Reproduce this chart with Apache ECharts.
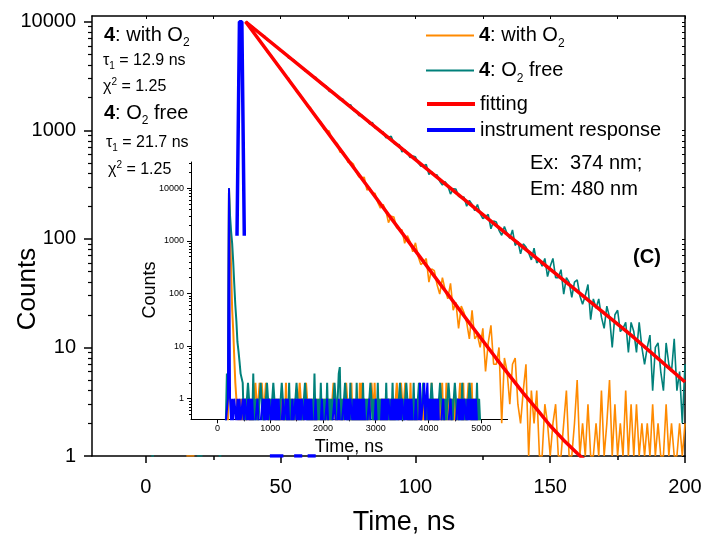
<!DOCTYPE html>
<html><head><meta charset="utf-8">
<script src="https://cdn.jsdelivr.net/npm/echarts@6/dist/echarts.min.js"></script>
<style>html,body{margin:0;padding:0;background:#fff}#c{width:704px;height:534px}</style>
</head><body><div id="c"></div>
<script>
// ---------------- DATA ----------------
// main panel: one channel per ns, starting at t = 0 ns (null = no point)
const mainStart = 0, mainStep = 1;
const withO2 = [
 null,null,null,null,null,null,null,null,null,null,null,null,null,null,null,
 1,1,1,1,
 null,null,null,null,null,null,null,null,null,null,null,null,null,null,null,null,null,null,
 10100,9295,8495,8084,7317,6716,6293,5917,5261,5034,
 4682,4239,3884,3751,3405,3119,3021,2645,2507,2235,
 2172,1999,1821,1649,1631,1425,1348,1226,1186,1024,
 1000,984,829,775,757,627,638,582,507,511,
 488,414,373,366,370,282,295,263,263,217,
 192,208,182,141,162,159,127,122,121,91,
 107,94,76,92,69,58,61,66,40,53,
 51,38,31,44,34,28,39,22,26,15,
 24,21,17,12,22,12,13,10,15,6,
 11,16,7,7,10,2,8,6,3,7,
 8,3,2,4,7,1,4,2,4,1,
 1,3,2,1,2,3,1,1,2,4,
 1,1,2,5,1,2,1,3,1,1,
 2,1,4,1,2,5,1,3,1,2,
 1,4,1,3,1,3,1,2,1,2,
 1,3,1,2,1,1,3,1,2,1,
 1,2,1,2
];
const o2Free = [
 null,null,1,1,
 null,null,null,null,null,null,null,null,null,null,null,null,null,null,null,
 1,1,1,
 null,null,null,null,null,
 1,1,
 null,null,null,null,null,null,null,null,
 10030,9439,9189,8839,8268,7847,7584,7385,6763,6623,
 6268,6084,5673,5370,5283,4988,4617,4579,4419,4105,
 3943,3813,3514,3494,3302,3085,3081,2837,2671,2600,
 2542,2281,2290,2201,2034,1914,1939,1801,1694,1719,
 1523,1501,1364,1386,1313,1229,1142,1181,1053,1030,
 964,967,854,865,880,760,734,740,632,663,
 623,561,580,571,502,468,470,485,392,415,
 383,390,340,313,337,309,259,289,288,247,
 241,243,200,226,208,182,207,171,154,160,
 168,124,146,143,120,108,130,112,101,121,
 87,95,73,90,84,74,64,82,60,64,
 56,66,45,56,66,44,44,52,31,44,
 40,29,40,42,30,25,30,38,18,28,
 23,28,19,15,24,19,10,20,22,14,
 15,17,9,17,14,9,17,10,7,10,
 13,4,10,11,6,4,11,7,6,12,
 4,6,2,7
];
const fitWithO2T = [37,50,60,70,80,90,100,110,120,130,140,145,150,155,160,165];
const fitWithO2  = [10000,3666,1694,783,362,167,77.6,36,16.8,7.9,3.8,2.7,1.9,1.4,1.06,0.82];
const fitFreeT = [37,60,80,100,120,140,160,180,200];
const fitFree  = [10000,3435,1357,536,211,83.5,33,13,4.8];
const irfMainT = [33.8,34.7,35.6,36.5,40,46,47,48,49,50,51,52,55,56,57,58,59,60,61,62,63];
const irfMain  = [107,10000,10000,107,null,1,1,1,1,1,1,null,1,1,1,1,null,1,1,1,1];

// inset: one channel per 20 ns, starting at t = 160 ns (0 = zero counts)
const insetStart = 160, insetStep = 20;
const insetWithO2 = [
 0,0,0,10000,2000,300,50,20,6,2,1,
 1,0,1,0,1,0,1,0,1,0, 1,0,1,0,1,0,1,2,1,0, 1,2,1,2,1,0,1,2,1,0,
 1,0,1,0,1,0,1,0,1,0, 1,0,1,0,1,0,2,0,1,0, 1,0,1,0,1,0,1,0,1,2,
 1,0,1,0,1,2,1,0,1,0, 1,0,1,0,1,0,1,0,1,0, 1,0,1,0,1,0,1,0,1,0,
 1,2,1,0,1,0,1,0,1,0, 1,0,1,2,1,0,1,0,2,0, 1,0,1,0,1,0,2,0,2,0,
 1,0,1,0,1,0,1,2,1,0, 2,0,1,0,1,0,1,0,1,0, 1,0,1,0,1,0,1,0,1,0,
 1,2,1,0,1,2,1,0,1,2, 1,0,1,0,2,0,1,0,1,0, 1,0,1,0,1,0,1,0,1,0,
 1,0,1,0,2,0,1,0,1,0, 1,0,1,0,2,0,1,0,2,0, 1,0,1,0,1,0,1,0,1,0,
 1,2,1,0,2,0,1,0,1,2, 1,0,2,0,1,0,1,0,1,0, 0
];
const insetFree = [
 0,3,2,10000,3000,1500,900,400,150,60,30,12,8,5,3,3,2,
 0,1,0,1,
 2,1,0,1,0,3,0,1,0,1, 0,1,2,1,0,1,0,1,2,1, 0,1,0,1,2,1,0,1,0,1,
 0,1,2,1,0,1,0,1,0,2, 0,1,0,1,0,1,2,1,0,1, 0,1,0,1,2,1,0,1,0,1,
 0,1,0,3,0,1,0,1,0,2, 0,1,0,1,0,2,0,1,0,1, 0,1,2,1,0,1,3,4,0,1,
 0,1,2,1,0,1,0,2,0,1, 0,1,0,2,0,1,0,1,0,2, 0,1,0,1,0,1,2,1,0,1,
 0,1,0,2,0,1,0,1,0,1, 0,2,0,1,0,1,0,2,0,1, 0,1,0,1,2,1,0,1,0,1,
 2,1,0,1,0,1,0,2,0,1, 0,1,2,1,0,1,2,1,0,1, 0,1,0,1,2,1,0,1,0,1,
 0,1,2,1,0,1,0,1,0,1, 2,1,0,1,0,1,2,1,0,1, 0,1,0,2,0,1,0,1,0,1,
 2,1,0,1,0,1,0,2,0,1, 0
];
const insetIrf = [
 0,0,1,10000,1,
 0,1,0,1,1,0,1,0,1,0,0,1,0,1,1,0,1,0,1,0,1,0,
 0,0,0,1,0,0,0,0,1,0,
 1,0,1,0,1,1,0,1,0,1,0,1,0,1,0,
 0,0,1,0,0,1,0,1,0,0,0,1,0,0,1,
 0,1,0,1,0,1,1,0,1,0,1,0,1,0,1,
 0,0,0,1,0,0,0,0,0,1,0,0,0,0,1,0,0,0,0,0,0,1,0,0,0,1,0,0,0,0,
 1,0,1,0,1,0,1,1,0,1,0,1,0,1,0,1,0,1,0,1,
 0,0,0,0,1,0,0,0,0,0,1,0,0,0,0,
 0,1,0,1,0,1,0,1,1,0,1,0,1,0,1,0,1,0,1,0,1,1,0,1,0,1,0,1,0,1,
 0,0,0,1,0,0,0,2,0,0,
 1,2,0,1,2,0,1,0,1,0,1,0,1,0,1,
 0,0,0,0,1,0,0,0,0,0,0,1,0,0,0,0,0,0,
 1,0,1,0,1,0,1,1,0,1,0,1,0,1,0,1,0,1,
 0,0,0,0
];

// ticks
const mainXTicks  = [0,50,100,150,200];
const mainXMinor  = [25,75,125,175];
const mainTopTicks = [0,25,50,75,100,125,150,175,200];
const mainYTicks  = [1,10,100,1000,10000];
const insetXTicks = [0,1000,2000,3000,4000,5000];
const insetXMinor = [500,1500,2500,3500,4500];
const insetYTicks = [1,10,100,1000,10000];
const minorMult   = [2,3,4,5,6,7,8,9];

// ---------------- CHART ----------------
const FONT = '"Liberation Sans", Arial, Helvetica, sans-serif';
const ORANGE = '#FF8A00', TEAL = '#00807A', RED = '#FF0000', BLUE = '#0000FF';
const MAIN_YMIN = 1, MAIN_YMAX = 11300;
const INSET_YMIN = 0.406, INSET_YMAX = 31623;
const INSET_ZERO = 0.36; // zero-count channels drop just below the inset's log floor

const L = Math.log10;
const minorLogs = decades => { const o = []; decades.forEach(d => minorMult.forEach(m => o.push(L(m * d)))); return o; };
const miss = v => (v == null ? '-' : v);
const toMain = vals => vals.map((v, i) => [mainStart + i * mainStep, miss(v)]);
const toPairs = (ts, vals) => ts.map((t, i) => [t, miss(vals[i])]);
const toInset = vals => vals.map((v, i) => [insetStart + i * insetStep, v > 0 ? v : INSET_ZERO]);
const powLabel = v => String(Math.round(Math.pow(10, v)));

const hideAll = {axisLine: {show: false}, axisLabel: {show: false}, axisTick: {show: false}, splitLine: {show: false}};

const legendLabels = {
  withO2: '{b|4}: with O{sub|2}',
  free: '{b|4}: O{sub|2} free',
  fitting: 'fitting',
  irf: 'instrument response'
};
const richMain = {
  b: {fontFamily: FONT, fontSize: 20, fontWeight: 'bold', lineHeight: 21, color: '#000'},
  sub: {fontFamily: FONT, fontSize: 12, padding: [16, 0, 0, 0], color: '#000'},
  s: {fontFamily: FONT, fontSize: 10, padding: [10, 0, 0, 0], color: '#000'},
  p: {fontFamily: FONT, fontSize: 10, padding: [0, 0, 10, 0], color: '#000'}
};

function txt(x, y, text, size, extra) {
  return Object.assign({
    type: 'text', x: x, y: y, silent: true,
    style: Object.assign({text: text, fontFamily: FONT, fontSize: size, fill: '#000',
      align: 'left', verticalAlign: 'middle', rich: richMain}, (extra && extra.style) || {})
  }, extra && extra.rotation ? {rotation: extra.rotation} : {});
}

const line = (name, data, color, width, xi, yi) => ({
  type: 'line', name: name, data: data, xAxisIndex: xi, yAxisIndex: yi,
  symbol: 'none', showSymbol: false, silent: true, animation: false, clip: true,
  lineStyle: {color: color, width: width}, itemStyle: {color: color}
});

function legendRow(name, top, lw) {
  return {
    data: [name], orient: 'vertical', left: 425, top: top, padding: 0,
    itemWidth: 48, itemHeight: 14, selectedMode: false,
    itemStyle: {opacity: 0, borderWidth: 0},
    lineStyle: {width: lw},
    formatter: n => legendLabels[n],
    textStyle: {fontFamily: FONT, fontSize: 20, color: '#000', lineHeight: 21, rich: richMain}
  };
}

const option = {
  animation: false,
  backgroundColor: '#fff',
  textStyle: {fontFamily: FONT},
  grid: [
    {left: 92, right: 19, top: 16, bottom: 78, outerBoundsMode: 'none'},
    {left: 191, right: 196.4, top: 162, bottom: 114.7, outerBoundsMode: 'none'}
  ],
  xAxis: [
    { // 0 main bottom
      gridIndex: 0, type: 'value', position: 'bottom', min: -20, max: 200,
      axisLine: {onZero: false, lineStyle: {color: '#000', width: 1.5}},
      axisTick: {customValues: mainXTicks, length: 7, lineStyle: {color: '#000', width: 1.5}},
      axisLabel: {customValues: mainXTicks, formatter: v => String(v), fontSize: 20, color: '#000', margin: 21, fontFamily: FONT},
      splitLine: {show: false}
    },
    { // 1 main bottom minor
      gridIndex: 0, type: 'value', position: 'bottom', min: -20, max: 200,
      axisLine: {show: false, onZero: false}, axisLabel: {show: false}, splitLine: {show: false},
      axisTick: {customValues: mainXMinor, length: 4, lineStyle: {color: '#000', width: 1.5}}
    },
    { // 2 main top border
      gridIndex: 0, type: 'value', position: 'top', min: -20, max: 200,
      axisLine: {onZero: false, lineStyle: {color: '#000', width: 1.5}},
      axisTick: {customValues: mainTopTicks, inside: true, length: 3, lineStyle: {color: '#000', width: 1}},
      axisLabel: {show: false}, splitLine: {show: false}
    },
    { // 3 inset x
      gridIndex: 1, type: 'value', position: 'bottom', min: -500, max: 5500,
      axisLine: {onZero: false, lineStyle: {color: '#000', width: 1}},
      axisTick: {customValues: insetXTicks, length: 4, lineStyle: {color: '#000', width: 1}},
      axisLabel: {customValues: insetXTicks, formatter: v => String(v), fontSize: 9, color: '#000', margin: 5, fontFamily: FONT},
      splitLine: {show: false}
    },
    { // 4 inset x minor
      gridIndex: 1, type: 'value', position: 'bottom', min: -500, max: 5500,
      axisLine: {show: false, onZero: false}, axisLabel: {show: false}, splitLine: {show: false},
      axisTick: {customValues: insetXMinor, length: 2, lineStyle: {color: '#000', width: 1}}
    }
  ],
  yAxis: [
    Object.assign({gridIndex: 0, type: 'log', min: MAIN_YMIN, max: MAIN_YMAX, show: false}, hideAll), // 0 data
    { // 1 main left, labels + major ticks
      gridIndex: 0, type: 'value', position: 'left', min: L(MAIN_YMIN), max: L(MAIN_YMAX),
      axisLine: {onZero: false, lineStyle: {color: '#000', width: 1.5}},
      axisTick: {customValues: mainYTicks.map(L), length: 8, lineStyle: {color: '#000', width: 1.5}},
      axisLabel: {customValues: mainYTicks.map(L), formatter: powLabel, fontSize: 20, color: '#000', margin: 16, fontFamily: FONT},
      splitLine: {show: false}
    },
    { // 2 main left minor
      gridIndex: 0, type: 'value', position: 'left', min: L(MAIN_YMIN), max: L(MAIN_YMAX),
      axisLine: {show: false, onZero: false}, axisLabel: {show: false}, splitLine: {show: false},
      axisTick: {customValues: minorLogs([1, 10, 100, 1000, 10000]), length: 4, lineStyle: {color: '#000', width: 1.2}}
    },
    { // 3 main right border
      gridIndex: 0, type: 'value', position: 'right', min: L(MAIN_YMIN), max: L(MAIN_YMAX),
      axisLine: {onZero: false, lineStyle: {color: '#000', width: 1.5}},
      axisTick: {customValues: mainYTicks.map(L).concat(minorLogs([1, 10, 100, 1000, 10000])), inside: true, length: 3, lineStyle: {color: '#000', width: 1}},
      axisLabel: {show: false}, splitLine: {show: false}
    },
    Object.assign({gridIndex: 1, type: 'log', min: INSET_YMIN, max: INSET_YMAX, show: false}, hideAll), // 4 inset data
    { // 5 inset left
      gridIndex: 1, type: 'value', position: 'left', min: L(INSET_YMIN), max: L(INSET_YMAX),
      axisLine: {onZero: false, lineStyle: {color: '#000', width: 1}},
      axisTick: {customValues: insetYTicks.map(L), length: 4, lineStyle: {color: '#000', width: 1}},
      axisLabel: {customValues: insetYTicks.map(L), formatter: powLabel, fontSize: 9, color: '#000', margin: 7, fontFamily: FONT},
      splitLine: {show: false}
    },
    { // 6 inset left minor
      gridIndex: 1, type: 'value', position: 'left', min: L(INSET_YMIN), max: L(INSET_YMAX),
      axisLine: {show: false, onZero: false}, axisLabel: {show: false}, splitLine: {show: false},
      axisTick: {customValues: minorLogs([0.1, 1, 10, 100, 1000, 10000]), length: 2, lineStyle: {color: '#000', width: 1}}
    }
  ],
  legend: [
    legendRow('withO2', 25, 2),
    legendRow('free', 60, 2),
    legendRow('fitting', 93.5, 4),
    legendRow('irf', 119.5, 4)
  ],
  series: [
    line('withO2', toMain(withO2), ORANGE, 1.6, 0, 0),
    line('free', toMain(o2Free), TEAL, 1.6, 0, 0),
    line('fitting', toPairs(fitWithO2T, fitWithO2), RED, 3.5, 0, 0),
    line('fitting', toPairs(fitFreeT, fitFree), RED, 3.5, 0, 0),
    line('irf', toPairs(irfMainT, irfMain), BLUE, 3.5, 0, 0),
    line('withO2', toInset(insetWithO2), ORANGE, 2, 3, 4),
    line('free', toInset(insetFree), TEAL, 2, 3, 4),
    line('irf', toInset(insetIrf), BLUE, 2, 3, 4)
  ],
  graphic: [
    txt(104, 35, '{b|4}: with O{sub|2}', 20),
    txt(103, 61, 'τ{s|1} = 12.9 ns', 16),
    txt(103, 87, 'χ{p|2} = 1.25', 16),
    txt(104, 113, '{b|4}: O{sub|2} free', 20),
    txt(106, 143, 'τ{s|1} = 21.7 ns', 16),
    txt(108, 170, 'χ{p|2} = 1.25', 16),
    txt(530, 163, 'Ex:  374 nm;', 20),
    txt(530, 189, 'Em: 480 nm', 20),
    txt(647, 257, '(C)', 20, {style: {fontWeight: 'bold', align: 'center'}}),
    txt(404, 523, 'Time, ns', 27, {style: {align: 'center'}}),
    txt(28, 289, 'Counts', 26, {style: {align: 'center'}, rotation: Math.PI / 2}),
    txt(349, 447, 'Time, ns', 18, {style: {align: 'center'}}),
    txt(150, 290, 'Counts', 18, {style: {align: 'center'}, rotation: Math.PI / 2})
  ]
};

const chart = echarts.init(document.getElementById('c'), null, {renderer: 'canvas'});
chart.setOption(option);
</script>
</body></html>
